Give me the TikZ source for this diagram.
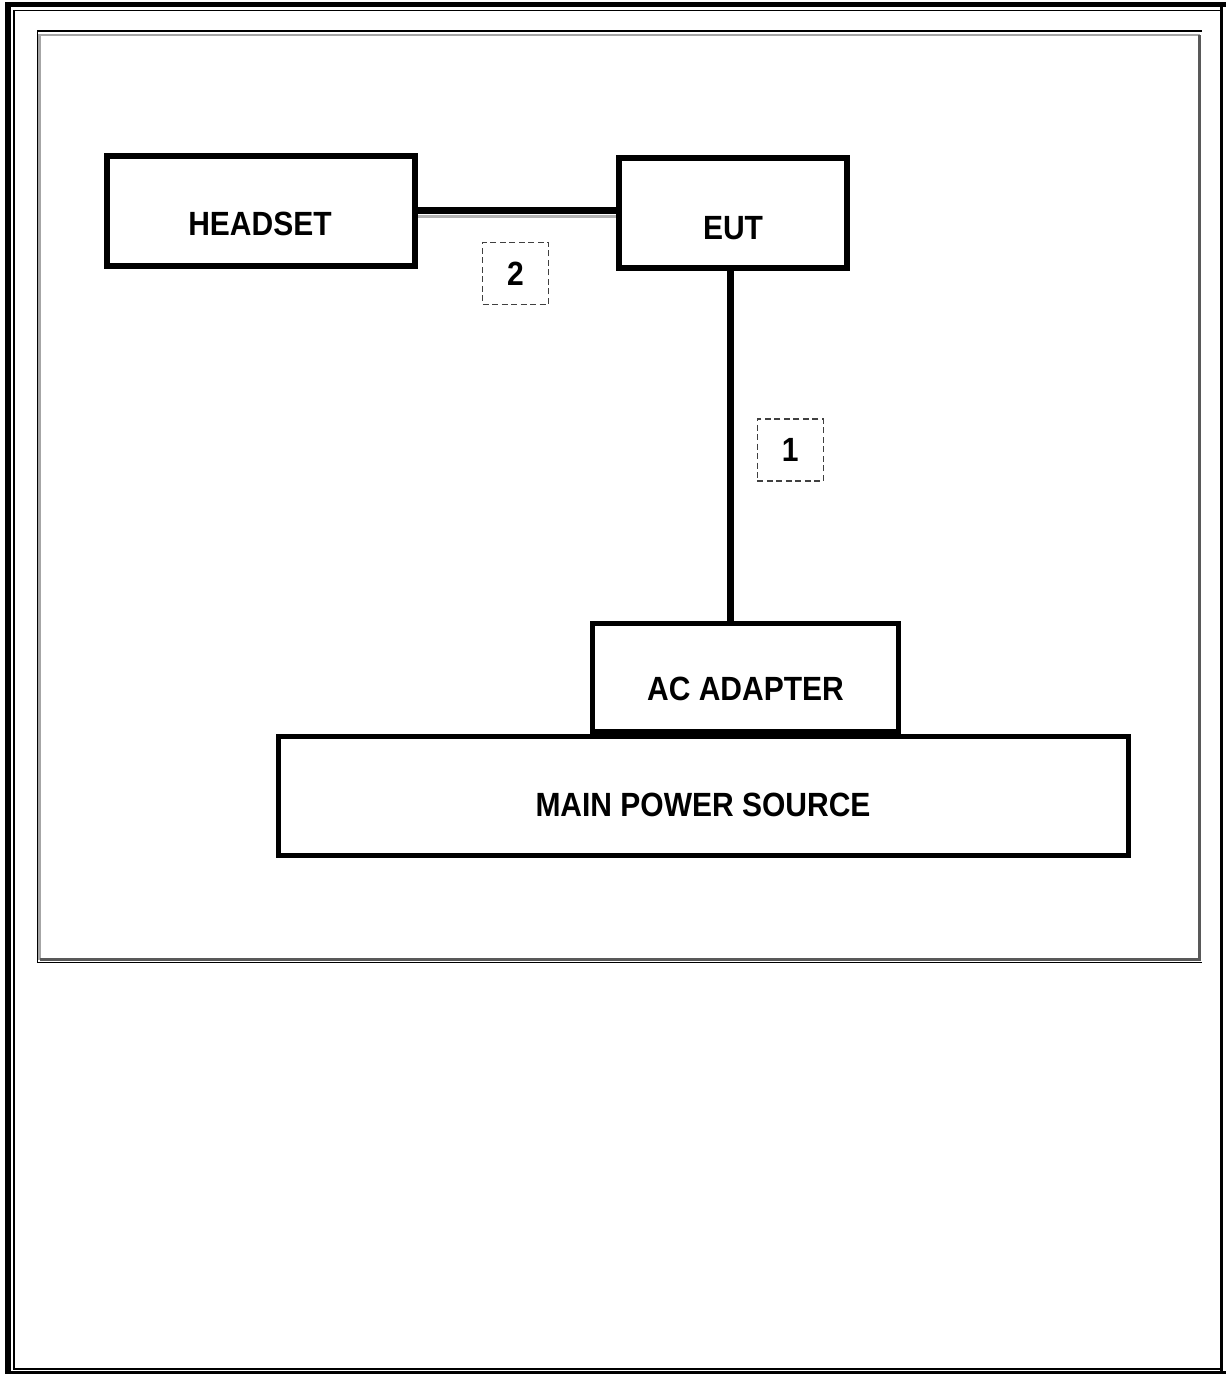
\documentclass[tikz,border=0pt]{standalone}
\usepackage{graphicx}
\usepackage{fontspec}
\setmainfont{Liberation Sans}
\usepackage{tikz}
\usetikzlibrary{positioning}

\newcommand{\tallcaps}[1]{\scalebox{1}[1.12]{#1}}

\begin{document}
\begin{tikzpicture}[x=1pt, y=-1pt,
    unit/.style={draw, line width=5.5pt, inner sep=0pt},
    caption/.style={font=\fontsize{30}{30}\selectfont\bfseries, inner sep=0pt},
    cable/.style={line width=6.5pt},
    tagbox/.style={draw=black!75, line width=1.3pt, dash pattern=on 6pt off 3.5pt,
        minimum width=66pt, minimum height=62pt, inner sep=0pt,
        font=\fontsize{30}{30}\selectfont\bfseries}]

    \useasboundingbox (0,0) rectangle (1226,1374);

    % Marco exterior doble
    \draw[line width=1.5pt] (13.8,10.5) rectangle (1221.5,1369);
    \draw[line width=6pt] (8,2) -- (8,1374);
    \draw[line width=5pt] (5,4.5) -- (1226,4.5);
    \draw[line width=3.5pt] (1221.5,2) -- (1221.5,1374);
    \draw[line width=3pt] (5,1372.5) -- (1226,1372.5);

    % Marco interior con sombra
    \draw[line width=1.6pt] (1202,31) -- (37.5,31) -- (37.5,962.5) -- (1202,962.5);
    \draw[line width=2.2pt, black!35] (1199.5,35) -- (39.5,35) -- (39.5,959.5);
    \draw[line width=2.2pt, black!65] (39.5,959.5) -- (1199.5,959.5) -- (1199.5,35);

    % Equipos
    \node[unit, minimum width=308pt, minimum height=110pt] (headset) at (261,211) {};
    \node[unit, minimum width=228pt, minimum height=110pt] (eut) at (733,213) {};
    \node[unit, minimum width=306pt, minimum height=108pt] (adapter) at (745.5,677.5) {};
    \node[unit, minimum width=850pt, minimum height=119pt] (mains) at (703.5,796) {};

    % Textos de los equipos
    \node[caption] (headsettext) at (260,224) {\tallcaps{HEADSET}};
    \node[caption] (euttext) at (733,228) {\tallcaps{EUT}};
    \node[caption] (adaptertext) at (745.5,689) {\tallcaps{AC ADAPTER}};
    \node[caption] (mainstext) at (703,805) {\tallcaps{MAIN POWER SOURCE}};

    % Cables
    \draw[line width=3.5pt, black!30] ([yshift=-5.5pt]headset.east) -- ([yshift=-5.5pt]headset.east -| eut.west);
    \draw[cable] ([yshift=0.5pt]headset.east) -- ([yshift=0.5pt]headset.east -| eut.west);
    \draw[cable] ([xshift=-2.5pt]eut.south) -- ([xshift=-2.5pt]eut.south |- adapter.north);

    % Numeros de cable
    \node[tagbox] (tagtwo) at (515.5,273.3) {\tallcaps{2}};
    \node[tagbox] (tagone) at (790.3,450) {\tallcaps{1}};
\end{tikzpicture}
\end{document}
